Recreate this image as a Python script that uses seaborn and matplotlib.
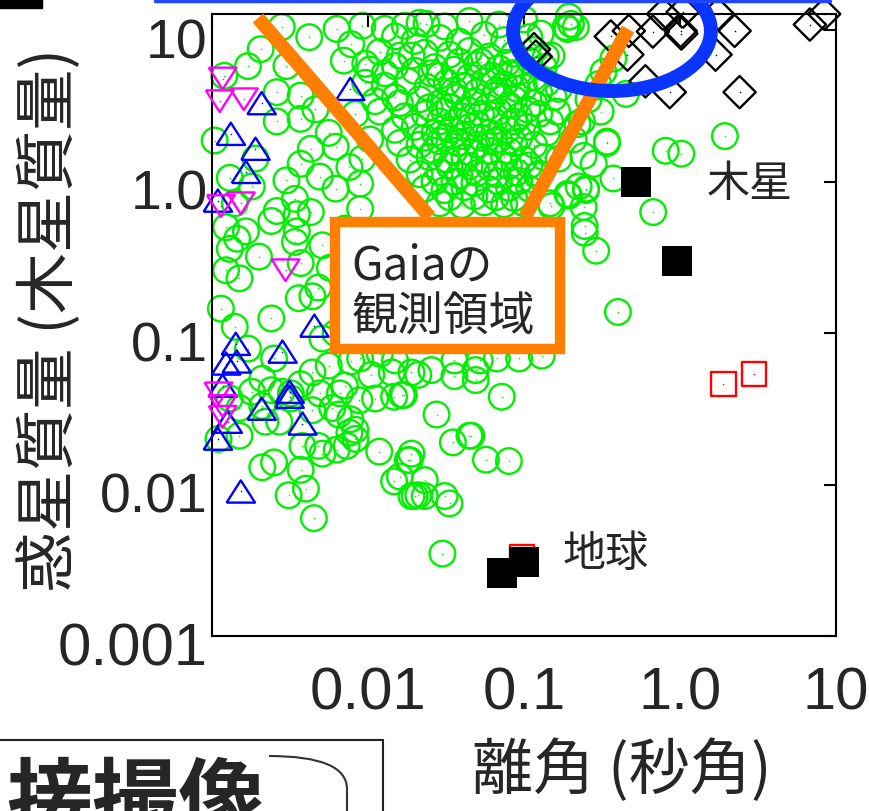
import matplotlib
matplotlib.use('Agg')
import matplotlib.pyplot as plt
import seaborn as sns
from matplotlib import font_manager
from matplotlib.patches import Rectangle, Ellipse, PathPatch
from matplotlib.path import Path
from matplotlib.lines import Line2D
from matplotlib.transforms import ScaledTranslation

# 離角 (秒角), 惑星質量 (木星質量)
# 視線速度法などで見つかった惑星 (緑の丸)
green_left = [
    (0.0028, 10.5), (0.0042, 9.0), (0.0063, 10.2), (0.0017, 5.8), (0.0012, 5.0), (0.0030, 5.8),
    (0.0026, 3.9), (0.0037, 3.7), (0.0026, 2.5), (0.0056, 2.1), (0.0062, 1.7), (0.0037, 1.31),
    (0.0030, 1.02), (0.0049, 1.08), (0.0013, 1.06), (0.0018, 0.93), (0.0034, 0.77), (0.0062, 0.90),
    (0.00104, 1.87), (0.0078, 8.1), (0.0092, 10.7), (0.0128, 10.2), (0.0172, 10.7), (0.0070, 6.3),
    (0.0096, 6.0), (0.019, 6.8), (0.0128, 5.2), (0.016, 3.3), (0.0076, 1.25), (0.0089, 0.97),
    (0.00205, 7.5), (0.0037, 2.6), (0.0046, 3.0), (0.0083, 2.8), (0.0103, 1.9), (0.0092, 1.42),
    (0.0043, 1.65), (0.0019, 1.42), (0.0014, 0.72),
]
green_mid_left = [
    (0.00165, 0.47), (0.00145, 0.42), (0.0013, 0.36), (0.0020, 0.32), (0.0015, 0.23), (0.00123, 0.26),
    (0.0036, 0.17), (0.0044, 0.175), (0.0048, 0.20), (0.0014, 0.11), (0.0017, 0.079), (0.0035, 0.61),
    (0.0043, 0.63), (0.0026, 0.64), (0.0034, 0.40), (0.0024, 0.55), (0.0051, 0.38), (0.0035, 0.47),
    (0.0062, 0.10), (0.0051, 0.092), (0.0078, 0.065), (0.0056, 0.061), (0.0044, 0.055), (0.0105, 0.053),
    (0.0142, 0.055), (0.019, 0.055), (0.0071, 0.045), (0.0028, 0.041), (0.0024, 0.042), (0.0018, 0.041),
    (0.0037, 0.29), (0.0057, 0.27), (0.0071, 0.49), (0.0089, 0.66), (0.0071, 0.17), (0.0096, 0.125),
    (0.0024, 0.125), (0.00114, 0.145), (0.00123, 0.50),
]
green_low_left = [
    (0.0015, 0.021), (0.0011, 0.020), (0.0021, 0.013), (0.0025, 0.014), (0.0037, 0.0125), (0.0040, 0.0094),
    (0.0031, 0.0085), (0.0045, 0.0060), (0.0118, 0.0165), (0.0147, 0.0105), (0.018, 0.0145), (0.019, 0.0084),
    (0.021, 0.0085), (0.0063, 0.017), (0.0051, 0.016), (0.0073, 0.018), (0.0048, 0.018), (0.0038, 0.018),
    (0.0032, 0.037), (0.0022, 0.026), (0.0027, 0.026), (0.0044, 0.031), (0.0059, 0.032), (0.0065, 0.029),
    (0.0088, 0.036), (0.0111, 0.037), (0.0147, 0.038), (0.0170, 0.039), (0.0076, 0.022), (0.0083, 0.020),
    (0.0021, 0.033), (0.0032, 0.040), (0.0037, 0.046), (0.0049, 0.040), (0.0066, 0.040), (0.0077, 0.027),
    (0.0083, 0.023), (0.0015, 0.032), (0.0013, 0.037), (0.0021, 0.050), (0.0025, 0.068),
]
green_low_mid = [
    (0.030, 0.0035), (0.0358, 0.066), (0.0255, 0.057), (0.021, 0.053), (0.0358, 0.052), (0.049, 0.057),
    (0.049, 0.049), (0.067, 0.068), (0.072, 0.038), (0.130, 0.071), (0.0165, 0.039), (0.0275, 0.029),
    (0.035, 0.019), (0.0447, 0.021), (0.046, 0.021), (0.057, 0.0146), (0.080, 0.0143), (0.019, 0.016),
    (0.0185, 0.0145), (0.0231, 0.0107), (0.0199, 0.0084), (0.0231, 0.0084), (0.031, 0.0084), (0.0333, 0.0075),
    (0.016, 0.0113), (0.0089, 0.068), (0.0119, 0.073), (0.0149, 0.066), (0.093, 0.068), (0.052, 0.066),
]
green_right = [
    (0.128, 9.5), (0.19, 10.2), (0.20, 11.0), (0.138, 6.7), (0.31, 2.9), (0.147, 2.5), (0.163, 2.9),
    (0.241, 1.48), (0.34, 1.84), (0.374, 1.05), (0.25, 0.90), (0.224, 0.93), (0.19, 0.83), (0.147, 0.72),
    (0.22, 2.4), (0.083, 5.2), (0.0255, 5.2), (0.0237, 11.0), (0.194, 12.3), (0.185, 10.5), (0.215, 10.5),
    (0.150, 6.8), (0.323, 5.3), (0.45, 3.8), (0.235, 2.5), (0.34, 1.8), (0.194, 0.81), (0.25, 0.88),
    (0.245, 0.51), (0.29, 0.35), (0.673, 0.63), (0.81, 1.60), (1.02, 1.53), (1.94, 2.0), (0.150, 0.69),
    (0.245, 0.46), (0.40, 0.138), (0.241, 0.68), (0.30, 4.4), (0.374, 6.5), (0.259, 3.5), (0.167, 4.1),
    (0.208, 1.9), (0.167, 1.42), (0.28, 1.31), (0.125, 1.13),
]
green_dense = [
    (0.0214, 11.2), (0.031, 10.6), (0.0447, 11.5), (0.069, 10.9), (0.100, 11.8),
    (0.0149, 9.1), (0.0199, 8.5), (0.0288, 8.9), (0.0385, 8.4), (0.0556, 9.3), (0.0746, 8.6), (0.108, 9.0),
    (0.0119, 7.2), (0.016, 6.8), (0.0231, 7.1), (0.0333, 6.9), (0.0447, 7.3), (0.0598, 6.7), (0.0863, 7.0),
    (0.116, 7.4),
    (0.0103, 5.5), (0.0149, 5.8), (0.0199, 5.4), (0.0267, 5.7), (0.0358, 5.5), (0.050, 5.9), (0.069, 5.6),
    (0.093, 5.3), (0.134, 5.7),
    (0.0096, 4.5), (0.0128, 4.3), (0.018, 4.6), (0.024, 4.2), (0.032, 4.5), (0.0415, 4.3), (0.0556, 4.6),
    (0.0746, 4.4), (0.100, 4.2), (0.14, 4.5),
    (0.0111, 3.4), (0.0149, 3.6), (0.0214, 3.5), (0.0288, 3.3), (0.0374, 3.6), (0.0481, 3.4), (0.0644, 3.7),
    (0.0863, 3.5), (0.116, 3.3), (0.155, 3.6),
    (0.0119, 2.9), (0.0172, 2.7), (0.0231, 2.8), (0.0309, 2.9), (0.040, 2.7), (0.053, 2.8), (0.069, 2.9),
    (0.093, 2.7), (0.125, 2.8),
    (0.0149, 2.2), (0.0199, 2.3), (0.0267, 2.1), (0.034, 2.2), (0.0447, 2.3), (0.0598, 2.1), (0.078, 2.2),
    (0.105, 2.3), (0.14, 2.1),
    (0.016, 1.8), (0.0214, 1.75), (0.0288, 1.85), (0.0374, 1.8), (0.050, 1.75), (0.0644, 1.85), (0.0863, 1.8),
    (0.116, 1.75),
    (0.0185, 1.4), (0.0248, 1.45), (0.032, 1.4), (0.0415, 1.45), (0.0556, 1.4), (0.0746, 1.45), (0.100, 1.4),
    (0.134, 1.45),
    (0.0214, 1.12), (0.0288, 1.15), (0.0385, 1.1), (0.050, 1.14), (0.067, 1.12), (0.090, 1.15), (0.121, 1.1),
    (0.0231, 0.9), (0.0309, 0.88), (0.0415, 0.92), (0.0598, 0.89), (0.0802, 0.91), (0.108, 0.9),
    (0.0288, 0.72), (0.040, 0.7), (0.0556, 0.73), (0.0746, 0.71), (0.100, 0.72),
    (0.0385, 6.2), (0.053, 6.2), (0.078, 6.1), (0.108, 6.3),
    (0.0288, 5.0), (0.0447, 4.9), (0.062, 5.0), (0.083, 5.1), (0.116, 4.9),
    (0.0358, 4.0), (0.050, 3.9), (0.067, 4.0), (0.090, 4.1), (0.125, 3.9),
    (0.0248, 3.1), (0.0333, 3.1), (0.043, 3.0), (0.058, 3.1), (0.080, 3.2), (0.105, 3.0),
    (0.0288, 2.5), (0.0374, 2.5), (0.050, 2.4), (0.0644, 2.5), (0.0863, 2.5),
    (0.0231, 1.95), (0.0309, 1.95), (0.040, 2.0), (0.053, 1.95), (0.069, 1.9), (0.093, 1.95),
    (0.0267, 1.6), (0.0358, 1.6), (0.046, 1.55), (0.0598, 1.6), (0.080, 1.6),
    (0.0333, 1.27), (0.0447, 1.27), (0.0598, 1.25), (0.080, 1.27), (0.108, 1.28),
    (0.0267, 1.0), (0.0358, 1.0), (0.0481, 0.98), (0.069, 1.0), (0.093, 1.01),
    (0.0333, 0.79), (0.0481, 0.8), (0.066, 0.79), (0.0863, 0.78),
]
# トランジット (青の三角)
blue_sep = [0.0077, 0.00208, 0.00132, 0.0019, 0.00165, 0.00109, 0.00453, 0.00283, 0.00142, 0.00123,
            0.00144, 0.00117, 0.00314, 0.00208, 0.00314, 0.0038, 0.00126, 0.00109, 0.00153]
blue_mass = [4.1, 3.3, 2.07, 1.65, 1.16, 0.75, 0.112, 0.0755, 0.085, 0.063,
             0.065, 0.045, 0.041, 0.0317, 0.038, 0.0253, 0.026, 0.0201, 0.0090]
# マイクロレンズ (マゼンタの逆三角)
mag_sep = [0.00117, 0.00112, 0.0016, 0.00153, 0.00114, 0.00296, 0.0011, 0.00117, 0.00117]
mag_mass = [4.8, 3.4, 3.5, 0.72, 0.69, 0.26, 0.040, 0.033, 0.028]
# 直接撮像 (黒の菱形)
dia_sep = [0.116, 0.119, 0.36, 0.47, 0.67, 0.78, 1.04, 1.01, 1.02, 1.75, 2.24, 0.46, 1.69, 0.60, 0.86,
           2.41, 6.8, 8.4]
dia_mass = [7.5, 6.7, 9.1, 9.9, 9.8, 12.8, 13.2, 9.9, 9.5, 12.8, 9.9, 6.9, 6.9, 4.6, 3.9,
            3.9, 10.9, 12.8]
# 太陽系 (10 pc から見た場合)
ice_sep = [1.9, 3.0, 0.097]
ice_mass = [0.046, 0.054, 0.0033]
solar_sep = [0.52, 0.95, 0.072, 0.10]
solar_mass = [1.0, 0.30, 0.0026, 0.0031]

x_ticks = [0.001, 0.01, 0.1, 1, 10]
x_ticklabels = ['', '0.01', '0.1', '1.0', '10']
y_ticks = [0.001, 0.01, 0.1, 1, 10]
y_ticklabels = ['0.001', '0.01', '0.1', '1.0', '10']

green_pts = green_left + green_mid_left + green_low_left + green_low_mid + green_right + green_dense
green_sep = [p[0] for p in green_pts]
green_mass = [p[1] for p in green_pts]

sns.set_theme(style='white')
plt.rcParams['font.family'] = ['Noto Sans CJK JP', 'DejaVu Sans']
names = {f.name for f in font_manager.fontManager.ttflist}
narrow = 'Liberation Sans Narrow' in names
num_font = ['Liberation Sans Narrow', 'DejaVu Sans'] if narrow else ['Liberation Sans', 'DejaVu Sans']
num_size = 50 if narrow else 43

fig = plt.figure(figsize=(8.69, 8.12), dpi=100)
ax = fig.add_axes([212 / 869, 1 - 637 / 812, 624 / 869, 622 / 812])
ax.set_xscale('log')
ax.set_yscale('log')

tri_up = [(-1.28, -1), (1.28, -1), (0, 1), (-1.28, -1)]
tri_down = [(-1.28, 1), (1.28, 1), (0, -1), (-1.28, 1)]


def hollow(x, y, marker, s, color, z):
    sns.scatterplot(x=x, y=y, marker=marker, s=s, facecolors='none', edgecolor=color,
                    linewidth=1.7, ax=ax, zorder=z, clip_on=False)
    sns.scatterplot(x=x, y=y, marker='.', s=5, color=color, linewidth=0, ax=ax, zorder=z,
                    clip_on=False)


hollow(green_sep, green_mass, 'o', 340, '#00f000', 2)
hollow(blue_sep, blue_mass, tri_up, 420, '#0000ff', 3)
hollow(mag_sep, mag_mass, tri_down, 400, '#ff00ff', 3)
hollow(dia_sep, dia_mass, 'D', 270, 'black', 3)
hollow(ice_sep, ice_mass, 's', 300, '#ff0000', 3)
sns.scatterplot(x=solar_sep, y=solar_mass, marker='s', s=480, color='black', linewidth=0,
                ax=ax, zorder=4)

ax.set_xlim(0.001, 10)
ax.set_ylim(0.001, 12.8)
ax.xaxis.set_minor_locator(matplotlib.ticker.NullLocator())
ax.yaxis.set_minor_locator(matplotlib.ticker.NullLocator())
ax.set_xticks(x_ticks, x_ticklabels, fontsize=num_size, family=num_font)
ax.set_yticks(y_ticks, y_ticklabels, fontsize=40, family=['Liberation Sans', 'DejaVu Sans'])
ax.tick_params(which='major', direction='in', length=9, width=1.5, top=True, right=True,
               color='black')
ax.tick_params(axis='x', pad=21)
ax.tick_params(axis='y', pad=3)
shift = ScaledTranslation(0, -0.07, fig.dpi_scale_trans)
for lab in ax.get_yticklabels():
    lab.set_transform(lab.get_transform() + shift)
    if lab.get_text() == '0.001':
        lab.set_fontfamily(num_font)
        lab.set_fontsize(num_size)
for sp in ax.spines.values():
    sp.set_color('black')
    sp.set_linewidth(1.5)

ax.set_xlabel('離角 (秒角)', fontsize=44)
ax.set_ylabel('惑星質量 (木星質量)', fontsize=44)
ax.xaxis.set_label_coords(0.657, -0.165)
ax.yaxis.set_label_coords(-0.208, 0.51)

# Gaia の観測領域
orange = '#ff8000'
ax.plot([0.0737, 0.349], [0.9936, 0.6736], transform=ax.transAxes, color=orange, lw=10,
        solid_capstyle='butt', zorder=5, clip_on=False)
ax.plot([0.6667, 0.5016], [0.9759, 0.6736], transform=ax.transAxes, color=orange, lw=10,
        solid_capstyle='butt', zorder=5, clip_on=False)
ax.add_patch(Rectangle((0.197, 0.461), 0.361, 0.204, transform=ax.transAxes, facecolor='white',
                       edgecolor=orange, lw=7.5, zorder=6))
ax.text(0.224, 0.556, 'Gaiaの\n観測領域', transform=ax.transAxes, fontsize=33, ha='left',
        va='center', linespacing=1.05, zorder=7)
ax.add_patch(Ellipse((0.641, 0.9727), 0.317, 0.193, transform=ax.transAxes, fill=False,
                     edgecolor='#0a35ff', lw=10, zorder=8, clip_on=False))

ax.text(0.862, 0.727, '木星', transform=ax.transAxes, fontsize=31, ha='center', va='center', zorder=7)
ax.text(0.630, 0.132, '地球', transform=ax.transAxes, fontsize=31, ha='center', va='center', zorder=7)

# 切り取られた周囲の要素
fig.add_artist(Line2D([155 / 869, 830 / 869], [1 - 2 / 812] * 2, color='#1f45ff', lw=2.5))
fig.add_artist(Rectangle((0, 1 - 9 / 812), 42 / 869, 9 / 812, color='black',
                         transform=fig.transFigure))
fig.add_artist(Line2D([0, 383 / 869], [1 - 741 / 812] * 2, color='#222222', lw=1.5))
fig.add_artist(Line2D([383 / 869] * 2, [1 - 741 / 812, 0], color='#222222', lw=1.5))
curve = Path([(269 / 869, 1 - 757 / 812), (347 / 869, 1 - 757 / 812), (347 / 869, 1 - 790 / 812),
              (347 / 869, 0)],
             [Path.MOVETO, Path.CURVE3, Path.CURVE3, Path.LINETO])
fig.add_artist(PathPatch(curve, fill=False, edgecolor='#333333', lw=1.5, transform=fig.transFigure))
fig.text(6 / 869, 1 - 760 / 812, '接撮像', fontsize=62, ha='left', va='top', fontweight='bold')

fig.savefig('out.png', dpi=100)
